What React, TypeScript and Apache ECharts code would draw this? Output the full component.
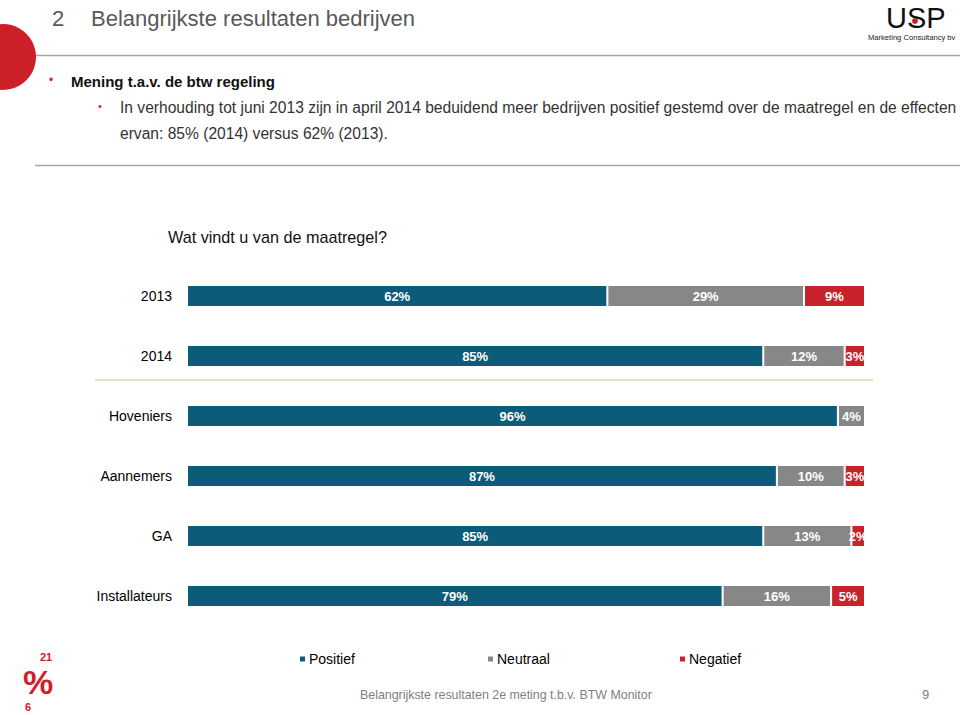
import React, { useEffect, useRef } from "react";
import * as echarts from "echarts";

const categories = ["2013", "2014", "Hoveniers", "Aannemers", "GA", "Installateurs"];
const positief = [62, 85, 96, 87, 85, 79];
const neutraal = [29, 12, 4, 10, 13, 16];
const negatief = [9, 3, 0, 3, 2, 5];
const seriesNames = ["Positief", "Neutraal", "Negatief"];
const colors = ["#0c5b78", "#878787", "#c8232b"];

const FONT = "'Liberation Sans', Arial, sans-serif";
const NARROW = "'Liberation Sans Narrow', 'Liberation Sans', Arial, sans-serif";

export default function App() {
  const ref = useRef<HTMLDivElement>(null);
  useEffect(() => {
    if (!ref.current) return;
    const chart = echarts.init(ref.current, null, { renderer: "svg" });
    const values = [positief, neutraal, negatief];
    const mkSeries = (i: number) => ({
      name: seriesNames[i],
      type: "bar",
      stack: "total",
      barWidth: 22,
      data: values[i],
      itemStyle: { color: colors[i], borderColor: "#ffffff", borderWidth: 1 },
      label: {
        show: true,
        position: "inside",
        color: "#ffffff",
        fontWeight: "bold",
        fontSize: 13,
        fontFamily: NARROW,
        formatter: (p: any) => (p.value > 0 ? p.value + "%" : ""),
      },
    });
    const legendLefts = [298, 486, 678];
    chart.setOption({
      animation: false,
      backgroundColor: "#ffffff",
      grid: { left: 187, right: 95, top: 266, height: 360, containLabel: false },
      xAxis: { type: "value", min: 0, max: 100, show: false },
      yAxis: {
        type: "category",
        data: categories,
        inverse: true,
        axisLine: { show: false },
        axisTick: { show: false },
        axisLabel: { color: "#000000", fontSize: 14, fontFamily: FONT, margin: 15 },
      },
      legend: seriesNames.map((n, i) => ({
        data: [n],
        left: legendLefts[i],
        top: 652,
        itemWidth: 7,
        itemHeight: 7,
        icon: "rect",
        itemGap: 0,
        textStyle: { fontSize: 14, color: "#000000", fontFamily: FONT, padding: [0, 0, 0, -2] },
        padding: 0,
        selectedMode: false,
      })),
      series: [0, 1, 2].map(mkSeries),
      graphic: [
        { type: "circle", shape: { cx: 3, cy: 57, r: 33 }, style: { fill: "#cc1f27" } },
        { type: "text", left: 52, top: 7, style: { text: "2", fontSize: 22, fill: "#595959", fontFamily: FONT } },
        { type: "text", left: 91, top: 7, style: { text: "Belangrijkste resultaten bedrijven", fontSize: 22, fill: "#595959", fontFamily: FONT } },
        { type: "line", shape: { x1: 36, y1: 55.5, x2: 960, y2: 55.5 }, style: { stroke: "#a6a6a6", lineWidth: 1.5 } },
        { type: "text", left: 886, top: 3, style: { text: "USP", fontSize: 29, fill: "#111111", fontFamily: NARROW, fontWeight: "normal" } },
        { type: "circle", shape: { cx: 915, cy: 21, r: 3 }, style: { fill: "#cc1f27" } },
        { type: "text", left: 868, top: 33, style: { text: "Marketing Consultancy bv", fontSize: 7.6, fill: "#222222", fontFamily: FONT } },
        { type: "text", left: 49, top: 74, style: { text: "•", fontSize: 12, fill: "#cc1f27", fontFamily: FONT } },
        { type: "text", left: 71, top: 74, style: { text: "Mening t.a.v. de btw regeling", fontSize: 15, fontWeight: "bold", fill: "#111111", fontFamily: FONT } },
        { type: "text", left: 98, top: 100, style: { text: "•", fontSize: 11, fill: "#cc1f27", fontFamily: FONT } },
        { type: "text", left: 120, top: 99, style: { text: "In verhouding tot juni 2013 zijn in april 2014 beduidend meer bedrijven positief gestemd over de maatregel en de effecten", fontSize: 15.6, fill: "#333333", fontFamily: FONT } },
        { type: "text", left: 120, top: 125, style: { text: "ervan: 85% (2014) versus 62% (2013).", fontSize: 15.6, fill: "#333333", fontFamily: FONT } },
        { type: "line", shape: { x1: 35, y1: 165.5, x2: 960, y2: 165.5 }, style: { stroke: "#a6a6a6", lineWidth: 1.5 } },
        { type: "text", left: 168, top: 229, style: { text: "Wat vindt u van de maatregel?", fontSize: 16.2, fill: "#111111", fontFamily: FONT } },
        { type: "line", shape: { x1: 95, y1: 380, x2: 873, y2: 380 }, style: { stroke: "#ece2bf", lineWidth: 2 } },
        { type: "text", left: 360, top: 689, style: { text: "Belangrijkste resultaten 2e meting t.b.v. BTW Monitor", fontSize: 12.4, fill: "#7f7f7f", fontFamily: NARROW } },
        { type: "text", left: 922, top: 688, style: { text: "9", fontSize: 13, fill: "#7f7f7f", fontFamily: FONT } },
        { type: "text", left: 23, top: 665, style: { text: "%", fontSize: 34, fontWeight: "bold", fill: "#d0202a", fontFamily: NARROW } },
        { type: "text", left: 40, top: 651, style: { text: "21", fontSize: 11, fontWeight: "bold", fill: "#c8232b", fontFamily: FONT } },
        { type: "text", left: 25, top: 701, style: { text: "6", fontSize: 11, fontWeight: "bold", fill: "#c8232b", fontFamily: FONT } },
      ],
    });
    return () => chart.dispose();
  }, []);
  return (
    <div
      ref={ref}
      style={{ position: "absolute", left: 0, top: 0, width: 960, height: 715 }}
    />
  );
}
